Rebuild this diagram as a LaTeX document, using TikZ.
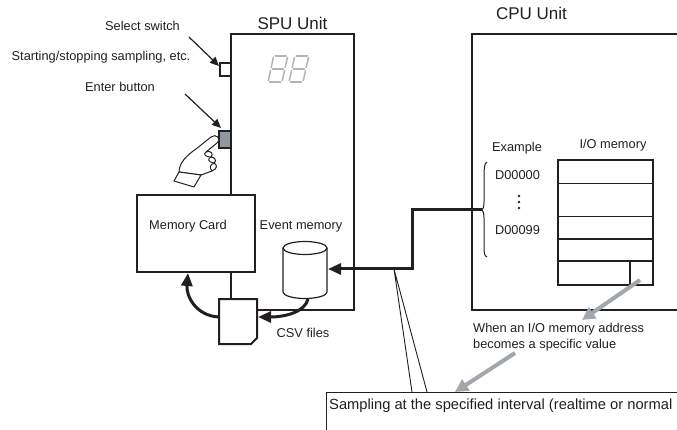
\documentclass[tikz,border=0pt]{standalone}
\usepackage{fontspec}
\setmainfont{Liberation Sans}
\usetikzlibrary{arrows.meta}
\definecolor{ink}{HTML}{231F20}
\definecolor{arrowgray}{HTML}{A2A7AB}
\definecolor{btngray}{HTML}{9197A0}
\definecolor{seggray}{HTML}{B4B4B4}
\newcommand\segdigit{%
  \draw[seg] (1.5,0) -- (12.5,0);
  \draw[seg] (1.5,-13) -- (12.5,-13);
  \draw[seg] (1.5,-26) -- (12.5,-26);
  \draw[seg] (0,-1.5) -- (0,-11.5);
  \draw[seg] (14,-1.5) -- (14,-11.5);
  \draw[seg] (0,-14.5) -- (0,-24.5);
  \draw[seg] (14,-14.5) -- (14,-24.5);
}
\tikzset{
  lbl/.style={font=\fontsize{12.8}{14}\selectfont, inner sep=0pt, text=ink},
  ttl/.style={font=\fontsize{17}{19}\selectfont, inner sep=0pt, text=ink},
  bigtxt/.style={font=\fontsize{14.7}{17}\selectfont, inner sep=0pt, text=ink},
  unitbox/.style={draw=ink, line width=2.6pt},
  cardbox/.style={draw=ink, line width=2pt, fill=white},
  thickconn/.style={draw=ink, line width=3pt},
  blackarrow/.style={-{Triangle[length=13pt,width=11pt]}},
  grayarrow/.style={draw=arrowgray, line width=4pt, -{Triangle[length=13pt,width=13pt]}},
  ptr/.style={draw=ink, line width=1.2pt, -{Triangle[length=9pt,width=8pt]}},
  seg/.style={draw=seggray, line width=1.5pt, line cap=round},
  thinline/.style={draw=ink, line width=0.9pt},
}
\begin{document}
\begin{tikzpicture}[x=1pt, y=-1pt]
\useasboundingbox (0,0) rectangle (677,430);
\clip (0,0) rectangle (677,430);
\fill[white] (0,0) rectangle (677,430);

% ---------- SPU unit ----------
\draw[unitbox] (231,34) rectangle (354,310);
\node[ttl] (spu) at (292.5,23) {SPU Unit};
\begin{scope}[shift={(268,82)}, xslant=0.22]\segdigit\end{scope}
\begin{scope}[shift={(289,82)}, xslant=0.22]\segdigit\end{scope}

% switch and button
\draw[draw=ink, line width=1.2pt, fill=white] (220,63) rectangle (231,76);
\coordinate (sw) at (219,66);
\draw[draw=ink, line width=1.2pt, fill=btngray] (219,131) rectangle (231,148);
\coordinate (btn) at (221,128);

\node[lbl] (selsw) at (142.5,26) {Select switch};
\node[lbl] (startstop) at (101,57) {Starting/stopping sampling, etc.};
\node[lbl] (enter) at (120,87) {Enter button};
\coordinate (selsrc) at (189,37);
\coordinate (entsrc) at (185,94);
\draw[ptr] (selsrc) -- (sw);
\draw[ptr] (entsrc) -- (btn);

% hand
\draw[draw=ink, line width=1pt, fill=white, line join=round]
  (179,172) .. controls (179,163) and (187,155) .. (196,149)
  -- (211,137) .. controls (216,133) and (222,139) .. (217,143)
  -- (206,152)
  .. controls (211,150) and (214,154) .. (211,157)
  .. controls (215,157) and (217,161) .. (214,163)
  .. controls (217,164) and (218,169) .. (212,171)
  -- (201,175) -- cycle;
\draw[draw=ink, line width=0.9pt] (206,152) .. controls (203,154) and (205,157) .. (211,157);
\draw[draw=ink, line width=0.9pt] (211,157) .. controls (207,159) and (208,162) .. (214,163);
\draw[draw=ink, line width=0.9pt] (214,163) .. controls (210,165) and (209,167) .. (212,171);
\draw[draw=ink, line width=1pt, fill=white, line join=round]
  (179,172) -- (201,175) -- (194,187) -- (174,181) -- cycle;

% memory card
\draw[cardbox] (137,195) rectangle (255,272);
\node[lbl] (mcard) at (188,226) {Memory Card};
\coordinate (mcbot) at (188,273);

% CSV file
\draw[draw=ink, line width=2pt, fill=white, line join=miter]
  (219,299) -- (257,299) -- (257,338) -- (251,344) -- (219,344) -- cycle;
\coordinate (fileR) at (258,317);
\coordinate (fileL) at (219,317);
\node[lbl] (csv) at (303,333) {CSV files};

% event memory cylinder
\node[lbl] (evm) at (301,226) {Event memory};
\draw[draw=ink, line width=1.2pt, fill=white]
  (283,248) -- (283,292) arc[start angle=180, end angle=0, x radius=22, y radius=6.5]
  -- (327,248);
\draw[draw=ink, line width=1.2pt] (305,248) ellipse[x radius=22, y radius=6.5];
\coordinate (cylE) at (328,269);
\coordinate (cylB) at (308,299);

\draw[thickconn, blackarrow] (cylB) .. controls (305,312) and (285,317) .. (fileR);
\draw[thickconn, blackarrow] (fileL) .. controls (196,316) and (186,296) .. (mcbot);

% ---------- CPU unit ----------
\draw[unitbox] (472,34) rectangle (700,310);
\node[ttl] (cpu) at (531.5,13) {CPU Unit};

\node[lbl] (example) at (517,148) {Example};
\node[lbl] (d0) at (517.5,175) {D00000};
\node[lbl] (d99) at (517.5,230) {D00099};
\fill[ink] (519,196) circle (1.3) (519,202) circle (1.3) (519,208) circle (1.3);
\draw[draw=ink, line width=1pt]
  (487,162) .. controls (484,163) and (484,170) .. (484,180) -- (484,202)
  .. controls (484,207) and (483,210) .. (481,210)
  .. controls (483,210) and (484,213) .. (484,218) -- (484,245)
  .. controls (484,252) and (484,256) .. (487,257);
\coordinate (brace) at (482,210);

% I/O memory table
\node[lbl] (iom) at (613,145) {I/O memory};
\draw[draw=ink, line width=0.9pt] (558,183) -- (653,183) (558,216) -- (653,216);
\draw[draw=ink, line width=2.2pt] (558,239) -- (653,239) (558,261) -- (653,261);
\draw[draw=ink, line width=1.5pt] (630,261) -- (630,285);
\draw[draw=ink, line width=2.8pt] (558,160) rectangle (653,285);

% main connector
\coordinate (turn) at (412,210);
\draw[thickconn, blackarrow] (brace) -- (turn) |- (cylE);

% sampling
\coordinate (tap) at (394,269);
\coordinate (sA) at (412,392);
\coordinate (sB) at (427,392);
\draw[thinline] (sA) -- (tap) -- (sB);
\draw[draw=ink, line width=1pt] (326,392) rectangle (700,450);
\node[bigtxt, anchor=west] (samp) at (329,406) {Sampling at the specified interval (realtime or normal};

% condition
\node[lbl, anchor=west] (cond1) at (473,329) {When an I/O memory address};
\node[lbl, anchor=west] (cond2) at (473,345) {becomes a specific value};
\coordinate (cellsrc) at (640,280);
\coordinate (condtip) at (582,320);
\coordinate (condsrc) at (515,353);
\coordinate (samptip) at (455,392);
\draw[grayarrow] (cellsrc) -- (condtip);
\draw[grayarrow] (condsrc) -- (samptip);
\end{tikzpicture}
\end{document}
